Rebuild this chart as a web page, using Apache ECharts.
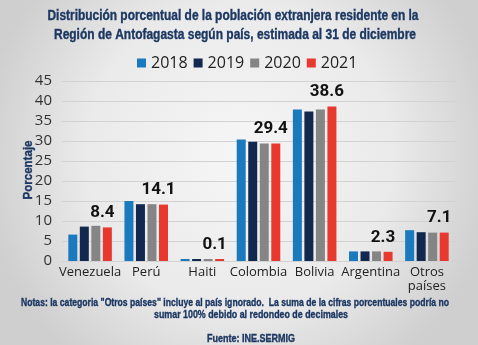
<!DOCTYPE html>
<html>
<head>
<meta charset="utf-8">
<script src="https://cdn.jsdelivr.net/npm/echarts@6/dist/echarts.min.js"></script>
<style>
  html, body { margin: 0; padding: 0; }
  #chart { width: 478px; height: 345px; }
</style>
</head>
<body>
<div id="chart"></div>
<script>
// Countries of origin (x axis)
const countries = ['Venezuela', 'Perú', 'Haiti', 'Colombia', 'Bolivia', 'Argentina', 'Otros\npaíses'];
// Share of the foreign resident population per year (%)
const years = ['2018', '2019', '2020', '2021'];
const v2018 = [6.6, 15.0, 0.1, 30.4, 37.9, 2.4, 7.7];
const v2019 = [8.6, 14.2, 0.1, 29.8, 37.4, 2.4, 7.2];
const v2020 = [8.8, 14.2, 0.1, 29.4, 37.9, 2.4, 7.1];
const v2021 = [8.4, 14.1, 0.1, 29.4, 38.6, 2.3, 7.1];
const yTicks = [0, 5, 10, 15, 20, 25, 30, 35, 40, 45];

const titleLines = [
  'Distribución porcentual de la población extranjera residente en la',
  'Región de Antofagasta según país, estimada al 31 de diciembre'
];
const noteLines = [
  'Notas: la categoria "Otros países" incluye al país ignorado.  La suma de la cifras porcentuales podría no',
  'sumar 100% debido al redondeo de decimales'
];
const sourceText = 'Fuente: INE.SERMIG';
const yName = 'Porcentaje';

const colors = ['#1b79bd', '#12284f', '#858585', '#e8392e'];
const navy = '#1c3762';
const boldFamily = '"Liberation Sans", Arial, sans-serif';
const values = [v2018, v2019, v2020, v2021];

// Condensed bold captions: a regular bold face squeezed horizontally to a target width
const measureCtx = document.createElement('canvas').getContext('2d');
function squeezed(text, size, cx, cy, width, rotation) {
  const font = 'bold ' + size + 'px ' + boldFamily;
  measureCtx.font = font;
  const w = measureCtx.measureText(text).width;
  return {
    type: 'text',
    x: cx, y: cy,
    rotation: rotation || 0,
    scaleX: width / w,
    silent: true,
    style: {
      text: text,
      font: font,
      fill: navy,
      stroke: navy,
      lineWidth: 0.35,
      textAlign: 'center',
      textVerticalAlign: 'middle'
    }
  };
}

const chart = echarts.init(document.getElementById('chart'));

const series = years.map((y, i) => ({
  name: y,
  type: 'bar',
  data: values[i],
  barWidth: 9,
  barGap: '28%',
  barMinHeight: 2,
  itemStyle: { color: colors[i] },
  label: i === 3 ? {
    show: true,
    position: 'top',
    distance: 6,
    offset: [-5, 0],
    color: '#111',
    fontSize: 17,
    fontWeight: 'bold',
    fontFamily: 'Roboto, "Liberation Sans", sans-serif'
  } : { show: false }
}));

chart.setOption({
  backgroundColor: {
    type: 'radial', x: 0.5, y: 0.45, r: 0.75,
    colorStops: [
      { offset: 0, color: '#f6f6f6' },
      { offset: 0.6, color: '#eaeaea' },
      { offset: 1, color: '#cfcfcf' }
    ]
  },
  animation: false,
  graphic: [
    squeezed(titleLines[0], 14, 233, 16, 371),
    squeezed(titleLines[1], 14, 235, 35, 362),
    squeezed(noteLines[0], 10.5, 235, 303, 428),
    squeezed(noteLines[1], 10.5, 251, 315, 194),
    squeezed(sourceText, 10.5, 251, 339, 88),
    squeezed(yName, 13.5, 28, 170, 59, Math.PI / 2)
  ],
  legend: {
    data: years,
    top: 50, left: 132,
    itemWidth: 9, itemHeight: 9, itemGap: 6,
    icon: 'rect',
    textStyle: { color: '#222', fontSize: 16, fontFamily: '"Open Sans", "Liberation Sans", sans-serif' }
  },
  grid: { left: 62, right: 23, top: 81, bottom: 84 },
  xAxis: {
    type: 'category',
    data: countries,
    axisLine: { show: false },
    axisTick: { show: false },
    axisLabel: {
      interval: 0,
      color: '#222', fontSize: 13, margin: 4, lineHeight: 14,
      fontFamily: '"Open Sans", "Liberation Sans", sans-serif'
    }
  },
  yAxis: {
    type: 'value',
    min: yTicks[0], max: yTicks[yTicks.length - 1], interval: 5,
    axisLabel: {
      color: '#333', fontSize: 15, margin: 10,
      fontFamily: '"Open Sans", "Liberation Sans", sans-serif'
    },
    splitLine: { lineStyle: { color: '#d2d2d2', width: 1 } }
  },
  series: series
});
</script>
</body>
</html>
